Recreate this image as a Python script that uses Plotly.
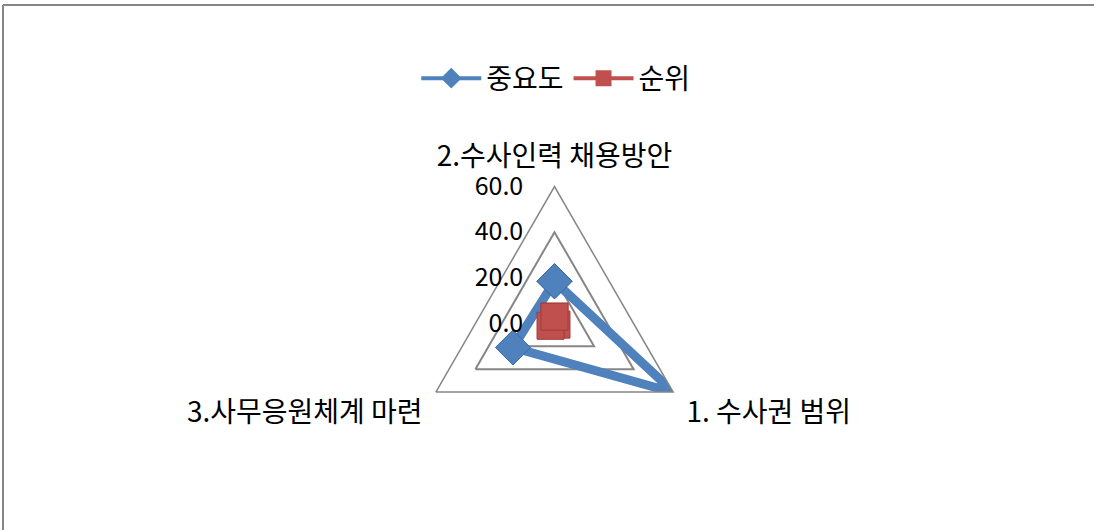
import plotly.graph_objects as go

categories = ["2.수사인력 채용방안", "1. 수사권 범위", "3.사무응원체계 마련"]
importance = [18.5, 60.5, 21.0]
rank = [3, 1, 2]
radial_ticks = [0, 20, 40, 60]
radial_tick_text = ["0.0", "20.0", "40.0", "60.0"]

FONT = "Noto Sans CJK KR"
BLUE = "#4F81BD"
RED = "#C0504D"
GRAY = "#868686"

def closed(vals):
    return list(vals) + [vals[0]]

fig = go.Figure()
fig.add_trace(go.Scatterpolar(
    r=closed(importance), theta=closed(categories), name="중요도",
    mode="lines+markers", cliponaxis=False, showlegend=False,
    line=dict(color=BLUE, width=9),
    marker=dict(symbol="diamond", size=27, color=BLUE, line=dict(color="#3A6CA8", width=1)),
))
fig.add_trace(go.Scatterpolar(
    r=closed(rank), theta=closed(categories), name="순위",
    mode="lines+markers", cliponaxis=False, showlegend=False,
    line=dict(color=RED, width=4),
    marker=dict(symbol="square", size=27, color=RED, line=dict(color="#A33B38", width=1)),
))
# legend-only entries (thinner line like the reference legend)
fig.add_trace(go.Scatterpolar(
    r=[None], theta=[None], name="중요도", mode="lines+markers",
    line=dict(color=BLUE, width=4),
    marker=dict(symbol="diamond", size=18, color=BLUE),
))
fig.add_trace(go.Scatterpolar(
    r=[None], theta=[None], name="순위", mode="lines+markers",
    line=dict(color=RED, width=4),
    marker=dict(symbol="square", size=17, color=RED),
))

top_y = (530 - 5) / 530
left_x = 3 / 1094

fig.update_layout(
    width=1094, height=530,
    margin=dict(l=0, r=0, t=0, b=0),
    paper_bgcolor="white",
    font=dict(family=FONT, size=24, color="black"),
    showlegend=True,
    legend=dict(orientation="h", x=0.508, xanchor="center", y=0.852, yanchor="middle",
                font=dict(family=FONT, size=28), itemwidth=60),
    polar=dict(
        domain=dict(x=[0.3816, 0.6321], y=[0.1311, 0.6481]),
        gridshape="linear",
        bgcolor="rgba(0,0,0,0)",
        angularaxis=dict(
            direction="clockwise", rotation=90,
            showgrid=False, showline=True, linecolor=GRAY, linewidth=1.5,
            ticks="outside", ticklen=9, tickcolor="rgba(0,0,0,0)",
            tickfont=dict(family=FONT, size=28),
        ),
        radialaxis=dict(
            range=[0, 60], tickvals=radial_ticks, ticktext=radial_tick_text,
            angle=90, tickangle=90, side="counterclockwise", showline=False,
            gridcolor=GRAY, gridwidth=1.5,
            ticks="outside", ticklen=22, tickcolor="rgba(0,0,0,0)",
            tickfont=dict(family=FONT, size=25),
        ),
    ),
    shapes=[
        dict(type="line", xref="paper", yref="paper",
             x0=left_x, x1=1, y0=top_y, y1=top_y, line=dict(color=GRAY, width=2)),
        dict(type="line", xref="paper", yref="paper",
             x0=left_x, x1=left_x, y0=0, y1=top_y, line=dict(color=GRAY, width=2)),
    ],
)

fig.write_html(
    "out.html", config={"displayModeBar": False},
    post_script=("document.body.style.margin='0';"
                 "document.body.style.overflow='hidden';"
                 "document.documentElement.style.overflow='hidden';"),
)
